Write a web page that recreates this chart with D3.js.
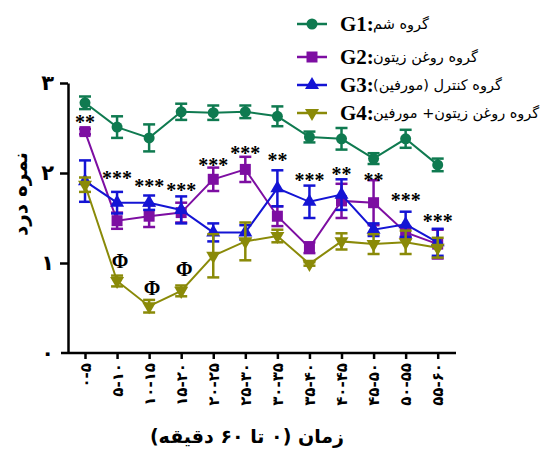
<!DOCTYPE html>
<html>
<head>
<meta charset="utf-8">
<script src="https://cdn.jsdelivr.net/npm/d3@7/dist/d3.min.js"></script>
<style>
body { margin: 0; background: #fff; }
</style>
</head>
<body>
<div id="chart"></div>
<script>
// time bins (minutes), shown in Persian digits
var times = ["۰-۵", "۵-۱۰", "۱۰-۱۵", "۱۵-۲۰", "۲۰-۲۵", "۲۵-۳۰",
             "۳۰-۳۵", "۳۵-۴۰", "۴۰-۴۵", "۴۵-۵۰", "۵۰-۵۵", "۵۵-۶۰"];
var yTicks = [0, 1, 2, 3];
var yTickLabels = ["۰", "۱", "۲", "۳"];

// mean pain score and SEM per group
var g1 = [2.78, 2.51, 2.39, 2.68, 2.67, 2.68, 2.63, 2.40, 2.38, 2.16, 2.38, 2.09];
var g1Err = [0.07, 0.12, 0.15, 0.09, 0.08, 0.07, 0.11, 0.06, 0.12, 0.06, 0.10, 0.07];
var g2 = [2.46, 1.47, 1.52, 1.56, 1.93, 2.04, 1.52, 1.17, 1.69, 1.67, 1.34, 1.21];
var g2Err = [0.03, 0.09, 0.12, 0.11, 0.13, 0.14, 0.11, 0.06, 0.19, 0.25, 0.06, 0.16];
var g3 = [1.91, 1.67, 1.67, 1.59, 1.34, 1.34, 1.83, 1.68, 1.76, 1.37, 1.43, 1.23];
var g3Err = [0.23, 0.12, 0.08, 0.15, 0.10, 0.08, 0.20, 0.18, 0.17, 0.07, 0.14, 0.15];
var g4 = [1.87, 0.80, 0.52, 0.69, 1.08, 1.24, 1.30, 0.99, 1.24, 1.21, 1.23, 1.17];
var g4Err = [0.08, 0.06, 0.07, 0.06, 0.24, 0.21, 0.07, 0.02, 0.09, 0.11, 0.13, 0.11];

var groupNames = ["G1", "G2", "G3", "G4"];
var groupLabels = ["گروه شم", "گروه روغن زیتون", "گروه کنترل (مورفین)", "گروه روغن زیتون+ مورفین"];

// significance marks (label + height in score units)
var stars = ["**", "***", "***", "***", "***", "***", "**", "***", "**", "**", "***", "***"];
var starLevel = [2.60, 1.98, 1.89, 1.85, 2.12, 2.26, 2.18, 1.96, 2.02, 1.96, 1.73, 1.50];
var phiIndex = [1, 2, 3];
var phiLevel = [1.02, 0.72, 0.93];

var groups = [
  {name: "G1", values: g1, err: g1Err, color: "#0f7a50", shape: d3.symbolCircle, size: 95, rot: 0},
  {name: "G2", values: g2, err: g2Err, color: "#7d0ea2", shape: d3.symbolSquare, size: 121, rot: 0},
  {name: "G3", values: g3, err: g3Err, color: "#1414d4", shape: d3.symbolTriangle, size: 85, rot: 0},
  {name: "G4", values: g4, err: g4Err, color: "#8a8a08", shape: d3.symbolTriangle, size: 85, rot: 180}
];

var W = 548, H = 452;
var svg = d3.select("#chart").append("svg")
  .attr("width", W)
  .attr("height", H);

var x = d3.scalePoint()
  .domain(times)
  .range([85, 437.7]);

var y = d3.scaleLinear()
  .domain([0, 3])
  .range([353, 83]);

var persian = "'DejaVu Sans', sans-serif";

// y axis
var yAxis = d3.axisLeft(y)
  .tickValues(yTicks)
  .tickSize(8)
  .tickSizeOuter(0)
  .tickFormat(function(d, i) { return yTickLabels[i]; });

var gy = svg.append("g")
  .attr("transform", "translate(68,0)")
  .call(yAxis);
gy.select(".domain").attr("stroke-width", 2.5);
gy.selectAll(".tick line").attr("stroke-width", 2.5);
gy.selectAll(".tick").filter(function(d) { return d === 0; }).select("line").remove();
gy.selectAll(".tick text")
  .attr("x", -14)
  .style("font-family", persian)
  .style("font-weight", "bold")
  .style("font-size", "21px")
  .attr("fill", "#000");

// x axis
var xAxis = d3.axisBottom(x)
  .tickSize(6)
  .tickSizeOuter(0);

var gx = svg.append("g")
  .attr("transform", "translate(0,353)")
  .call(xAxis);
gx.select(".domain").remove();
gx.append("line")
  .attr("x1", 61).attr("x2", 456)
  .attr("stroke", "#000")
  .attr("stroke-width", 2.5);
gx.selectAll(".tick line").attr("stroke-width", 2.5);
gx.selectAll(".tick text")
  .attr("transform", "rotate(-90)")
  .attr("x", -10)
  .attr("y", 0)
  .attr("dy", "0.35em")
  .attr("text-anchor", "end")
  .style("font-family", persian)
  .style("font-weight", "bold")
  .style("font-size", "15px")
  .attr("fill", "#000");

// axis titles
svg.append("text")
  .attr("transform", "translate(20,194) rotate(-90)")
  .attr("text-anchor", "middle")
  .attr("dy", "0.35em")
  .style("font-family", persian)
  .style("font-weight", "bold")
  .style("font-size", "20px")
  .text("نمره درد");

svg.append("text")
  .attr("x", 247)
  .attr("y", 443)
  .attr("text-anchor", "middle")
  .style("font-family", persian)
  .style("font-weight", "bold")
  .style("font-size", "19px")
  .text("زمان (۰ تا ۶۰ دقیقه)");

// series
var line = d3.line()
  .x(function(d, i) { return x(times[i]); })
  .y(function(d) { return y(d); });

groups.forEach(function(g) {
  var layer = svg.append("g");

  layer.append("path")
    .datum(g.values)
    .attr("d", line)
    .attr("fill", "none")
    .attr("stroke", g.color)
    .attr("stroke-width", 2);

  var eb = layer.selectAll(".err")
    .data(g.values)
    .enter().append("g");
  eb.append("line")
    .attr("x1", function(d, i) { return x(times[i]); })
    .attr("x2", function(d, i) { return x(times[i]); })
    .attr("y1", function(d, i) { return y(d + g.err[i]); })
    .attr("y2", function(d, i) { return y(d - g.err[i]); })
    .attr("stroke", g.color)
    .attr("stroke-width", 2.5);
  [1, -1].forEach(function(s) {
    eb.append("line")
      .attr("x1", function(d, i) { return x(times[i]) - 6; })
      .attr("x2", function(d, i) { return x(times[i]) + 6; })
      .attr("y1", function(d, i) { return y(d + s * g.err[i]); })
      .attr("y2", function(d, i) { return y(d + s * g.err[i]); })
      .attr("stroke", g.color)
      .attr("stroke-width", 2.5);
  });

  layer.selectAll(".pt")
    .data(g.values)
    .enter().append("path")
    .attr("d", d3.symbol().type(g.shape).size(g.size))
    .attr("transform", function(d, i) {
      return "translate(" + x(times[i]) + "," + y(d) + ") rotate(" + g.rot + ")";
    })
    .attr("fill", g.color);
});

// stars
svg.selectAll(".star")
  .data(stars)
  .enter().append("text")
  .attr("x", function(d, i) { return x(times[i]); })
  .attr("y", function(d, i) { return y(starLevel[i]) + 10; })
  .attr("text-anchor", "middle")
  .style("font-family", "'Liberation Serif', serif")
  .style("font-weight", "bold")
  .style("font-size", "20px")
  .text(function(d) { return d; });

svg.selectAll(".phi")
  .data(phiIndex)
  .enter().append("text")
  .attr("x", function(d) { return x(times[d]) + 3; })
  .attr("y", function(d, i) { return y(phiLevel[i]); })
  .attr("dy", "0.35em")
  .attr("text-anchor", "middle")
  .style("font-family", "'Liberation Serif', serif")
  .style("font-weight", "bold")
  .style("font-size", "20px")
  .text("Φ");

// legend
var legendY = [24, 57, 85, 113];
var legend = svg.selectAll(".leg")
  .data(groups)
  .enter().append("g")
  .attr("transform", function(d, i) { return "translate(0," + legendY[i] + ")"; });

legend.append("line")
  .attr("x1", 297).attr("x2", 327)
  .attr("stroke", function(d) { return d.color; })
  .attr("stroke-width", 2.5);
legend.append("path")
  .attr("d", function(d) { return d3.symbol().type(d.shape).size(d.size)(); })
  .attr("transform", function(d) { return "translate(312,0) rotate(" + d.rot + ")"; })
  .attr("fill", function(d) { return d.color; });
legend.append("text")
  .attr("x", 340)
  .attr("dy", "0.35em")
  .style("font-family", "'Liberation Serif', serif")
  .style("font-weight", "bold")
  .style("font-size", "21px")
  .text(function(d, i) { return groupNames[i] + ":"; });
legend.append("text")
  .attr("x", 373)
  .attr("dy", "0.35em")
  .attr("text-anchor", "start")
  .style("font-family", persian)
  .style("font-size", "14.5px")
  .text(function(d, i) { return groupLabels[i]; });
</script>
</body>
</html>
